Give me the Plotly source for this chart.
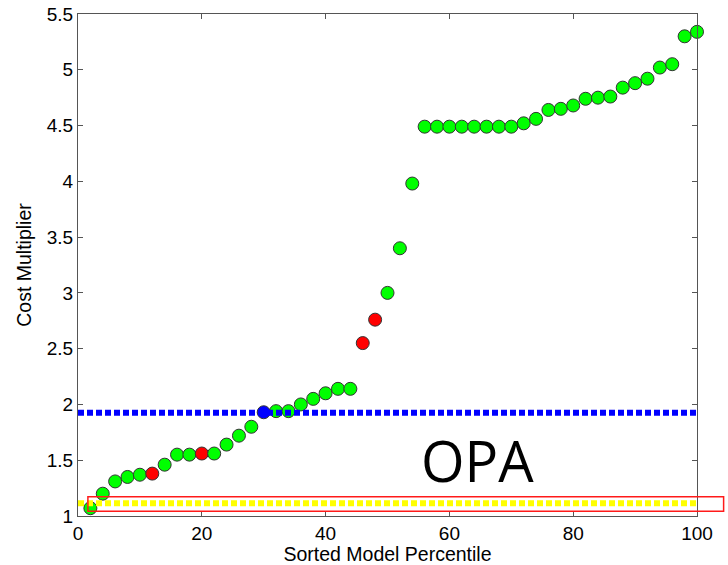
import plotly.graph_objects as go

# ---- data ----
percentile = [2, 4, 6, 8, 10, 12, 14, 16, 18, 20,
              22, 24, 26, 28, 30, 32, 34, 36, 38, 40,
              42, 44, 46, 48, 50, 52, 54, 56, 58, 60,
              62, 64, 66, 68, 70, 72, 74, 76, 78, 80,
              82, 84, 86, 88, 90, 92, 94, 96, 98, 100]
cost_multiplier = [1.07, 1.20, 1.31, 1.35, 1.37, 1.38, 1.46, 1.55, 1.55, 1.56,
                   1.56, 1.64, 1.72, 1.80, 1.93, 1.94, 1.94, 2.00, 2.05, 2.10,
                   2.14, 2.14, 2.55, 2.76, 3.00, 3.40, 3.98, 4.49, 4.49, 4.49,
                   4.49, 4.49, 4.49, 4.49, 4.49, 4.52, 4.56, 4.64, 4.65, 4.68,
                   4.74, 4.75, 4.76, 4.84, 4.88, 4.92, 5.02, 5.05, 5.30, 5.34]
red_percentiles = [12, 20, 46, 48]
blue_percentiles = [30]

blue_level = 1.926
yellow_level = 1.114
level_x = [0, 100]

box_x = [1.6, 104.3]
box_y = [1.042, 1.173]

label_text = "OPA"
label_pos = (64.5, 1.505)

x_range = [0, 100]
y_range = [1, 5.5]
x_ticks = [0, 20, 40, 60, 80, 100]
y_ticks = [1, 1.5, 2, 2.5, 3, 3.5, 4, 4.5, 5, 5.5]
y_tick_text = ["1", "1.5", "2", "2.5", "3", "3.5", "4", "4.5", "5", "5.5"]

# ---- figure ----
colors = []
for p in percentile:
    if p in red_percentiles:
        colors.append("#ff0000")
    elif p in blue_percentiles:
        colors.append("#0000ff")
    else:
        colors.append("#00ff00")

fig = go.Figure()
fig.add_trace(go.Scatter(
    x=percentile, y=cost_multiplier, mode="markers",
    marker=dict(size=13, color=colors, line=dict(color="#333333", width=1)),
    showlegend=False, cliponaxis=False))
fig.add_trace(go.Scatter(
    x=level_x, y=[blue_level, blue_level], mode="lines",
    line=dict(color="#0000ff", width=6, dash="6px,3px"), showlegend=False))
fig.add_trace(go.Scatter(
    x=level_x, y=[yellow_level, yellow_level], mode="lines",
    line=dict(color="#ffff00", width=6, dash="6px,3px"), showlegend=False))

# box in domain coordinates derived from the data values
def xd(v):
    return (v - x_range[0]) / (x_range[1] - x_range[0])

def yd(v):
    return (v - y_range[0]) / (y_range[1] - y_range[0])

fig.add_shape(type="rect", xref="x domain", yref="y domain",
              x0=xd(box_x[0]), x1=xd(box_x[1]), y0=yd(box_y[0]), y1=yd(box_y[1]),
              line=dict(color="#ff1a1a", width=1.5))

fig.add_annotation(x=label_pos[0], y=label_pos[1], text=label_text, showarrow=False,
                   font=dict(family="Open Sans", size=56, color="black"),
                   xanchor="center", yanchor="middle")

axis_common = dict(showline=True, linecolor="#555555", linewidth=1, mirror="ticks",
                   ticks="inside", ticklen=5, tickcolor="#555555",
                   showgrid=False, zeroline=False,
                   tickfont=dict(family="Liberation Sans, Arial", size=19, color="black"))

fig.update_xaxes(range=x_range, tickvals=x_ticks, **axis_common,
                 title=dict(text="Sorted Model Percentile", standoff=0,
                            font=dict(family="Liberation Sans, Arial", size=19.5, color="black")))
fig.update_yaxes(range=y_range, tickvals=y_ticks, ticktext=y_tick_text, **axis_common,
                 title=dict(text="Cost Multiplier", standoff=9,
                            font=dict(family="Liberation Sans, Arial", size=19.5, color="black")))

fig.update_layout(width=728, height=565,
                  margin=dict(l=78, r=31, t=14, b=49, autoexpand=False),
                  plot_bgcolor="white", paper_bgcolor="white")

fig.write_html("out.html", config={"displayModeBar": False},
               post_script="document.body.style.margin='0px';document.body.style.overflow='hidden';")
